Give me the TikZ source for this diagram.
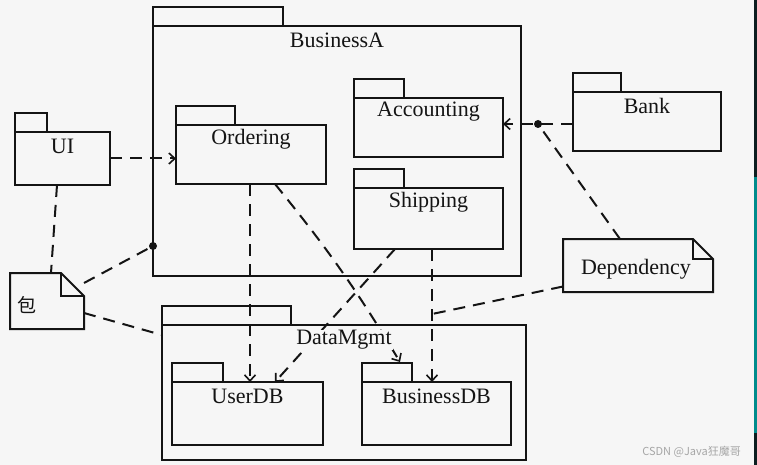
\documentclass[tikz,border=0pt]{standalone}
\usepackage{fontspec}
\setmainfont{Liberation Serif}
\newfontfamily\cjk{Noto Sans CJK SC}
\usetikzlibrary{arrows.meta,calc}
\definecolor{paper}{RGB}{246,246,246}
\definecolor{ink}{RGB}{20,20,20}
\definecolor{stripdark}{RGB}{12,30,32}
\definecolor{stripteal}{RGB}{0,140,140}
\tikzset{
  pkgbody/.style={draw=ink, line width=2pt, inner sep=0pt, outer sep=0pt, anchor=north west},
  pkgtab/.style={draw=ink, line width=2pt},
  lbl/.style={font=\fontsize{22}{25}\selectfont, text=ink, inner sep=0pt},
  notebox/.style={inner sep=0pt, outer sep=0pt, anchor=north west},
  noteline/.style={draw=ink, line width=2pt, line join=miter},
  dep/.style={draw=ink, line width=2pt, dash pattern=on 12pt off 8pt},
  tip/.style={-{Straight Barb[length=6pt,width=11pt,line width=1.6pt]}},
  dot/.style={circle, fill=ink, inner sep=0pt, minimum size=8pt},
}
\newcommand\pkg[6]{% name, x1, y1, x2, y2, tabwidth
  \node[pkgbody, minimum width=#4pt-#2pt, minimum height=#5pt-#3pt] (#1) at (#2,#3) {};
  \draw[pkgtab] (#1.north west) rectangle ++(#6,-19);
}
\newcommand\note[6]{% name, x1, y1, x2, y2, fold
  \node[notebox, minimum width=#4pt-#2pt, minimum height=#5pt-#3pt] (#1) at (#2,#3) {};
  \draw[noteline] (#1.north west) -- ([xshift=-#6pt]#1.north east) -- ([yshift=-#6pt]#1.north east)
     -- (#1.south east) -- (#1.south west) -- cycle;
  \draw[noteline] ([xshift=-#6pt]#1.north east) -- ([xshift=-#6pt,yshift=-#6pt]#1.north east)
     -- ([yshift=-#6pt]#1.north east);
}
\begin{document}
\begin{tikzpicture}[x=1pt,y=-1pt]
\fill[paper] (0,0) rectangle (757,465);
\useasboundingbox (0,0) rectangle (757,465);
\fill[stripdark] (754,0) rectangle (757,177);
\fill[stripteal] (754,177) rectangle (757,433);
\fill[stripdark] (754,433) rectangle (757,465);

% packages
\pkg{BusinessA}{153}{26}{521}{276}{130}
\pkg{UI}{15}{132}{110}{185}{32}
\pkg{Ordering}{176}{125}{326}{184}{59}
\pkg{Accounting}{354}{98}{503}{157}{50}
\pkg{Shipping}{354}{188}{503}{249}{50}
\pkg{Bank}{573}{92}{721}{151}{48}
\pkg{DataMgmt}{162}{325}{526}{460}{129}
\pkg{UserDB}{172}{382}{323}{445}{51}
\pkg{BusinessDB}{362}{382}{511}{445}{50}

% notes
\note{Bao}{10}{273}{84}{329}{23}
\note{Dependency}{563}{239}{713}{292}{20}

% junction points
\node[dot] (dotA) at (BusinessA.west |- 0,246) {};
\node[dot] (dotB) at (538,124) {};
\coordinate (jShip) at (432,314);

% connectors
\draw[dep,tip] (UI.east) -- (UI.east -| Ordering.west);
\draw[dep] ([xshift=42pt]UI.south west) -- ([xshift=41pt]Bao.north west);
\draw[dep] ([yshift=-10pt]Bao.north east) -- (dotA);
\draw[dep] ([yshift=-12pt]Bao.east) -- (DataMgmt.west |- 0,335);
\draw[dep,tip] (Bank.west |- dotB) -- (Accounting.east |- dotB);
\draw[dep] ([xshift=57pt]Dependency.north west) -- (dotB);
\draw[dep] ([yshift=-21pt]Dependency.west) -- (jShip);
\draw[dep,tip] ([xshift=74pt]Ordering.south west) -- ([xshift=74pt]Ordering.south west |- UserDB.north);
\draw[dep,tip] ([xshift=99pt]Ordering.south west) to[bend left=4] ([xshift=38pt]BusinessDB.north west |- 0,362);
\draw[dep,tip] ([xshift=41pt]Shipping.south west) -- ([xshift=103pt]UserDB.north west);
\draw[dep,tip] (jShip |- Shipping.south) -- (jShip |- BusinessDB.north);

% labels
\node[lbl] (BusinessA-lbl) at ([yshift=-14pt]BusinessA.north) {BusinessA};
\node[lbl] (UI-lbl) at ([yshift=-14pt]UI.north) {UI};
\node[lbl] (Ordering-lbl) at ([yshift=-14pt]Ordering.north) {Ordering};
\node[lbl] (Accounting-lbl) at ([yshift=-14pt]Accounting.north) {Accounting};
\node[lbl] (Shipping-lbl) at ([yshift=-14pt]Shipping.north) {Shipping};
\node[lbl] (Bank-lbl) at ([yshift=-14pt]Bank.north) {Bank};
\node[lbl, fill=paper, inner xsep=1pt] (DataMgmt-lbl) at ([yshift=-15pt]DataMgmt.north) {DataMgmt};
\node[lbl] (UserDB-lbl) at ([yshift=-14pt]UserDB.north) {UserDB};
\node[lbl] (BusinessDB-lbl) at ([yshift=-14pt]BusinessDB.north) {BusinessDB};
\node[lbl, font=\cjk\fontsize{19}{22}\selectfont] (Bao-lbl) at ([xshift=-20pt,yshift=-4pt]Bao.center) {包};
\node[lbl] (Dependency-lbl) at ([xshift=-2pt,yshift=-4pt]Dependency.center) {Dependency};

% watermark text
\node[font=\cjk\fontsize{11}{13}\selectfont, text=black!35, anchor=east, inner sep=0pt] (wm) at (741,452) {CSDN @Java狂魔哥};
\end{tikzpicture}
\end{document}
